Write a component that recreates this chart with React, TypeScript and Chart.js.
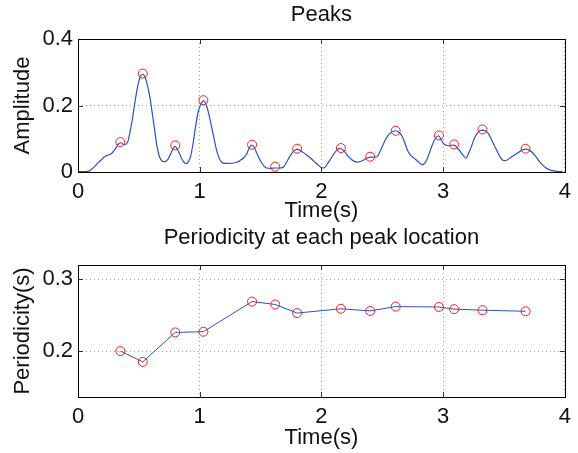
import React, { useEffect, useRef } from "react";
import { Chart, registerables } from "chart.js";

Chart.register(...registerables);

// ---- data ----
const sigTime = [
  0, 0.04, 0.08, 0.11, 0.138, 0.165, 0.193, 0.215, 0.233, 0.255, 0.273, 0.295, 0.314, 0.335, 0.35, 0.365, 0.38,
  0.395, 0.41, 0.43, 0.45, 0.47, 0.49, 0.51, 0.532, 0.553, 0.573, 0.595, 0.614, 0.632, 0.649, 0.67, 0.695, 0.715,
  0.736, 0.756, 0.776, 0.798, 0.82, 0.843, 0.865, 0.89, 0.908, 0.925, 0.945, 0.966, 0.99, 1.02, 1.035, 1.055, 1.073,
  1.093, 1.114, 1.134, 1.154, 1.175, 1.2, 1.24, 1.28, 1.31, 1.333, 1.36, 1.387, 1.41, 1.43, 1.45, 1.468, 1.49, 1.51,
  1.53, 1.55, 1.585, 1.618, 1.65, 1.685, 1.71, 1.74, 1.77, 1.8, 1.84, 1.876, 1.91, 1.94, 1.97, 2.0, 2.02, 2.05, 2.08,
  2.107, 2.13, 2.156, 2.18, 2.2, 2.22, 2.243, 2.27, 2.3, 2.33, 2.35, 2.38, 2.4, 2.43, 2.455, 2.48, 2.5, 2.53, 2.556,
  2.585, 2.61, 2.64, 2.664, 2.685, 2.705, 2.725, 2.745, 2.77, 2.786, 2.81, 2.827, 2.85, 2.867, 2.89, 2.908, 2.935,
  2.962, 2.98, 3.0, 3.02, 3.04, 3.065, 3.09, 3.115, 3.14, 3.165, 3.188, 3.21, 3.234, 3.255, 3.275, 3.3, 3.323, 3.345,
  3.37, 3.39, 3.41, 3.44, 3.465, 3.485, 3.506, 3.53, 3.56, 3.59, 3.615, 3.645, 3.677, 3.71, 3.737, 3.765, 3.79, 3.82,
  3.845, 3.87, 3.9, 3.93, 3.954, 3.98,
];
const sigAmp = [
  0.001, 0.001, 0.002, 0.008, 0.017, 0.028, 0.037, 0.045, 0.049, 0.052, 0.055, 0.064, 0.074, 0.085, 0.088, 0.085, 0.082,
  0.084, 0.092, 0.125, 0.167, 0.215, 0.257, 0.285, 0.294, 0.283, 0.257, 0.215, 0.167, 0.12, 0.077, 0.045, 0.032, 0.031,
  0.037, 0.05, 0.067, 0.077, 0.066, 0.047, 0.032, 0.025, 0.032, 0.047, 0.085, 0.137, 0.185, 0.211, 0.214, 0.2, 0.177,
  0.143, 0.107, 0.072, 0.047, 0.032, 0.026, 0.026, 0.027, 0.03, 0.035, 0.042, 0.055, 0.075, 0.081, 0.072, 0.057, 0.04, 0.027,
  0.017, 0.012, 0.011, 0.012, 0.012, 0.014, 0.027, 0.047, 0.062, 0.069, 0.061, 0.052, 0.042, 0.032, 0.022, 0.013, 0.012, 0.025, 0.042,
  0.057, 0.067, 0.071, 0.065, 0.057, 0.047, 0.039, 0.032, 0.03, 0.033, 0.037, 0.043, 0.045, 0.045, 0.046, 0.06, 0.077, 0.1, 0.114,
  0.122, 0.124, 0.118, 0.107, 0.088, 0.067, 0.054, 0.046, 0.039, 0.034, 0.026, 0.022, 0.027, 0.038, 0.06, 0.079, 0.1,
  0.109, 0.1, 0.087, 0.081, 0.079, 0.08, 0.081, 0.073, 0.062, 0.05, 0.042, 0.057, 0.079, 0.1, 0.114, 0.124, 0.126, 0.124,
  0.116, 0.103, 0.087, 0.065, 0.047, 0.037, 0.034, 0.037, 0.045, 0.052, 0.058, 0.065, 0.069, 0.065, 0.057, 0.045, 0.032, 0.02,
  0.012, 0.007, 0.004, 0.002, 0.001, 0.001,
];
const peakTime = [0.348, 0.532, 0.799, 1.03, 1.43, 1.62, 1.8, 2.16, 2.4, 2.61, 2.965, 3.09, 3.323, 3.677];
const peakAmp = [0.09, 0.296, 0.08, 0.216, 0.082, 0.016, 0.07, 0.072, 0.046, 0.124, 0.11, 0.083, 0.128, 0.07];
const periodicity = [0.2, 0.185, 0.226, 0.227, 0.269, 0.265, 0.253, 0.259, 0.256, 0.262, 0.2615, 0.2585, 0.257, 0.2555];

const xTicks = [0, 1, 2, 3, 4];
const topYTicks = [0, 0.2, 0.4];
const bottomYTicks = [0.2, 0.3];

// ---- styles ----
const FAMILY = "'Liberation Sans', Arial, Helvetica, sans-serif";
const FONT = { family: FAMILY, size: 22 };
const TEXT = "#111";
const BLUE = "#2a52c4";
const RED = "#ff1a1a";

// axes box, inner tick marks and a title centred over the axes (MATLAB style)
const framePlugin = {
  id: "frame",
  afterDraw(chart: any, _args: any, opts: any) {
    const { ctx, chartArea } = chart;
    const { left, top, right, bottom } = chartArea;
    const xs = chart.scales.x;
    const ys = chart.scales.y;
    ctx.save();
    ctx.strokeStyle = "#333";
    ctx.lineWidth = 1;
    ctx.beginPath();
    xs.ticks.forEach((t: any) => {
      const px = Math.round(xs.getPixelForValue(t.value)) + 0.5;
      ctx.moveTo(px, bottom);
      ctx.lineTo(px, bottom - 5);
      ctx.moveTo(px, top);
      ctx.lineTo(px, top + 5);
    });
    ys.ticks.forEach((t: any) => {
      const py = Math.round(ys.getPixelForValue(t.value)) + 0.5;
      ctx.moveTo(left, py);
      ctx.lineTo(left + 5, py);
      ctx.moveTo(right, py);
      ctx.lineTo(right - 5, py);
    });
    ctx.stroke();
    ctx.strokeStyle = "#000";
    ctx.strokeRect(Math.round(left) + 0.5, Math.round(top) + 0.5, Math.round(right - left), Math.round(bottom - top));
    if (opts && opts.text) {
      ctx.fillStyle = TEXT;
      ctx.font = `${FONT.size}px ${FAMILY}`;
      ctx.textAlign = "center";
      ctx.textBaseline = "middle";
      ctx.fillText(opts.text, (left + right) / 2, opts.y);
    }
    ctx.restore();
  },
};

function axisX(xHeight: number) {
  return {
    type: "linear",
    min: 0,
    max: 4,
    afterBuildTicks: (s: any) => {
      s.ticks = xTicks.map((v) => ({ value: v }));
    },
    afterFit: (s: any) => {
      s.height = xHeight;
    },
    ticks: { font: FONT, color: TEXT, padding: 7, maxRotation: 0, autoSkip: false, callback: (v: any) => String(v) },
    grid: { color: "#a0a0a0", drawTicks: false, lineWidth: 1 },
    border: { display: false, dash: [1, 3] },
    title: { display: true, text: "Time(s)", font: FONT, color: TEXT, padding: { top: 0, bottom: 2 } },
  };
}

function axisY(min: number, max: number, ticks: number[], label: string) {
  return {
    type: "linear",
    min,
    max,
    afterBuildTicks: (s: any) => {
      s.ticks = ticks.map((v) => ({ value: v }));
    },
    afterFit: (s: any) => {
      s.width = 78;
    },
    ticks: { font: FONT, color: TEXT, padding: 5, callback: (v: any) => String(v) },
    grid: { color: "#a0a0a0", drawTicks: false, lineWidth: 1 },
    border: { display: false, dash: [1, 3] },
    title: { display: true, text: label, font: FONT, color: TEXT, padding: { top: 10, bottom: 0 } },
  };
}

export default function App() {
  const topRef = useRef<HTMLCanvasElement>(null);
  const botRef = useRef<HTMLCanvasElement>(null);

  useEffect(() => {
    const top = new Chart(topRef.current as HTMLCanvasElement, {
      type: "line",
      data: {
        datasets: [
          {
            data: peakTime.map((t, i) => ({ x: t, y: peakAmp[i] })),
            showLine: false,
            pointRadius: 4.5,
            pointHoverRadius: 4.5,
            pointBorderColor: RED,
            pointBackgroundColor: "rgba(0,0,0,0)",
            pointBorderWidth: 1,
          },
          {
            data: sigTime.map((t, i) => ({ x: t, y: sigAmp[i] })),
            borderColor: BLUE,
            borderWidth: 1.2,
            pointRadius: 0,
            cubicInterpolationMode: "monotone",
            fill: false,
          },
        ],
      } as any,
      options: {
        animation: false,
        responsive: false,
        events: [],
        layout: { padding: { left: 0, right: 8, top: 39, bottom: 0 } },
        plugins: {
          legend: { display: false },
          tooltip: { enabled: false },
          title: { display: false },
          frame: { text: "Peaks", y: 15 },
        },
        scales: { x: axisX(54), y: axisY(0, 0.4, topYTicks, "Amplitude") } as any,
      } as any,
      plugins: [framePlugin],
    });

    const bot = new Chart(botRef.current as HTMLCanvasElement, {
      type: "line",
      data: {
        datasets: [
          {
            data: peakTime.map((t, i) => ({ x: t, y: periodicity[i] })),
            showLine: false,
            pointRadius: 4.5,
            pointHoverRadius: 4.5,
            pointBorderColor: RED,
            pointBackgroundColor: "rgba(0,0,0,0)",
            pointBorderWidth: 1,
          },
          {
            data: peakTime.map((t, i) => ({ x: t, y: periodicity[i] })),
            borderColor: BLUE,
            borderWidth: 1,
            pointRadius: 0,
            tension: 0,
            fill: false,
          },
        ],
      } as any,
      options: {
        animation: false,
        responsive: false,
        events: [],
        layout: { padding: { left: 0, right: 8, top: 39, bottom: 0 } },
        plugins: {
          legend: { display: false },
          tooltip: { enabled: false },
          title: { display: false },
          frame: { text: "Periodicity at each peak location", y: 12 },
        },
        scales: { x: axisX(56), y: axisY(0.136, 0.32, bottomYTicks, "Periodicity(s)") } as any,
      } as any,
      plugins: [framePlugin],
    });

    return () => {
      top.destroy();
      bot.destroy();
    };
  }, []);

  return (
    <div style={{ position: "absolute", left: 0, top: 0, width: 578, height: 453, background: "#fff" }}>
      <canvas ref={topRef} width={578} height={226} style={{ position: "absolute", left: 0, top: 0, width: 578, height: 226 }} />
      <canvas ref={botRef} width={578} height={227} style={{ position: "absolute", left: 0, top: 226, width: 578, height: 227 }} />
    </div>
  );
}
